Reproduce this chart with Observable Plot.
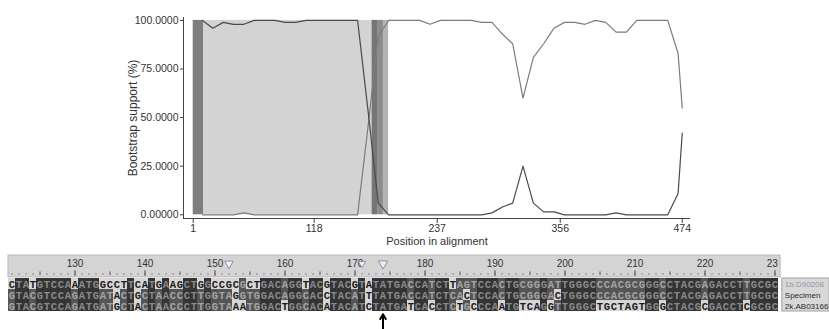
<!DOCTYPE html>
<html><head><meta charset="utf-8">
<script src="https://cdn.jsdelivr.net/npm/d3@7"></script>
<script src="https://cdn.jsdelivr.net/npm/@observablehq/plot@0.6"></script>
<style>
body{margin:0;background:#fff;}
#wrap{position:relative;width:829px;height:329px;overflow:hidden;font-family:"Liberation Sans",Arial,sans-serif;}
#top{position:absolute;left:0;top:0;}
#bottom{position:absolute;left:0;top:250px;}
svg{overflow:visible;}
</style></head><body><div id="wrap"><div id="top"></div><div id="bottom"></div></div>
<script>
// ---- Bootscan data ----
const positions = [10,20,30,40,50,60,70,80,90,100,110,120,130,140,150,160,170,180,190,200,210,220,230,240,250,260,270,280,290,300,310,320,330,340,350,360,370,380,390,400,410,420,430,440,450,460,470,474];
const supportA  = [100,96,99,98,98,100,100,100,99,99,100,100,100,100,100,100,54,6,0,0,0,0,0,0,0,0,0,0,1,4,6,25,6,1.5,1.5,0,0,0,0,0,1,0,0,0,0,0,11,42];
const supportB  = [0,0,0,0,1,0,0,0,0,0,0,0,0,0,0,0,45,92,100,100,100,100,98,100,100,100,100,99,99,93,88,60,81,88,96,99,99,98,100,99,94,94,100,100,100,100,83,55];
const bandStart = [1,11,174,180,185];
const bandEnd   = [11,174,180,185,190];
const bandShade = ["#7e7e7e","#d3d3d3","#767676","#8c8c8c","#b4b4b4"];
const xTicks = [1,118,237,356,474];
const yTicks = [0,25,50,75,100];
const yTickLabels = ["0.00000","25.0000","50.0000","75.0000","100.0000"];

// ---- Alignment data ----
const alignStart = 121;
const seqNames = ["1b.D90208","Specimen","2k.AB03166"];
const seq1 = "CTATGTCCAAATGGCCTTCATGAAGCT"+"GGCCGCGCTGACAGGTACGTACGTATAT"+"GACCATCTTAGTCCACTGCGGGATTGGG"+"CCCACGCGGGCCTACGAGACCTTGCGC";
const seq2 = "GTACGTCCAGATGATACTGCTAACCCT"+"TGGTAGGTGGACAGGCACCTACATTTAT"+"GACCATCTCACTCCACTGCGGGACTGGG"+"CCCACGCGGGCCTACGAGACCTTGCGC";
const seq3 = "GTACGTCCAGATGATGCTACTAACCCT"+"TGGTAAATGGACTGGCACATACATCTAT"+"GATCACCTCTGCCCAATGTCAGGTTGGG"+"CTGCTAGTGGGCTACGCGACCTCGCGC";
const rulerLabels = [130,140,150,160,170,180,190,200,210,220,230];
const markers = [152,171,174];
const markerSize = [3.2,2.2,3.6];
const breakpoint = 174;

// ---------- top chart ----------
const boot = positions.map((p,i)=>({pos:p,a:supportA[i],b:supportB[i]}));
const bands = bandStart.map((s,i)=>({start:s,end:bandEnd[i],shade:bandShade[i]}));
const xDomain = [-8.4, 482];
const yDomain = [-1.9, 101.5];
const font = "Liberation Sans, Arial, sans-serif";

const topChart = Plot.plot({
  width: 829, height: 250,
  marginLeft: 183, marginRight: 139, marginTop: 17, marginBottom: 32,
  x: {domain: xDomain, axis: null},
  y: {domain: yDomain, axis: null},
  color: {type: "identity"},
  style: {fontFamily: font, fontSize: "11px", color: "#333", background: "transparent"},
  marks: [
    Plot.rect(bands, {x1: "start", x2: "end", y1: () => yTicks[0], y2: () => yTicks[yTicks.length-1], fill: "shade"}),
    Plot.line(boot, {x: "pos", y: "b", stroke: "#7c7c7c", strokeWidth: 1.2}),
    Plot.line(boot, {x: "pos", y: "a", stroke: "#4a4a4a", strokeWidth: 1.2}),
    Plot.ruleX([xDomain[0]], {stroke: "#444", strokeWidth: 1}),
    Plot.ruleY([yDomain[0]], {stroke: "#444", strokeWidth: 1}),
    Plot.axisY(yTicks, {anchor: "left", tickSize: 3, tickPadding: 2, tickFormat: d => yTickLabels[yTicks.indexOf(d)], label: null, fontSize: 10.5, stroke: "#444"}),
    Plot.axisX(xTicks, {anchor: "bottom", tickSize: 5, tickPadding: 1, label: null, fontSize: 10.5, stroke: "#444"}),
    Plot.text(["Bootstrap support (%)"], {frameAnchor: "left", textAnchor: "middle", dx: -50, rotate: -90, fontSize: 12, fill: "#333"}),
    Plot.text(["Position in alignment"], {frameAnchor: "bottom", textAnchor: "middle", dy: 26, fontSize: 11, fill: "#333"})
  ]
});
document.getElementById("top").appendChild(topChart);

// ---------- alignment ----------
const rows = [seq1, seq2, seq3];
const cells = [];
for (let k = 0; k < seq1.length; k++) {
  const col = rows.map(s => s[k]);
  const counts = {};
  col.forEach(c => counts[c] = (counts[c]||0)+1);
  rows.forEach((s, r) => {
    const c = s[k];
    let shade, ink;
    if (counts[c] === 3) { shade = "#343434"; ink = "#8a8a8a"; }
    else if (counts[c] === 2) { shade = "#555555"; ink = "#a5a5a5"; }
    else { shade = "#d6d6d6"; ink = "#1a1a1a"; }
    cells.push({pos: alignStart + k, row: r, base: c, shade, ink});
  });
}
const xa0 = alignStart - 0.5, xa1 = alignStart + seq1.length - 0.5;
const allPos = d3.range(alignStart, alignStart + seq1.length);
const boxX1 = xa1 + 0.55, boxX2 = xa1 + 7.3;

const bottomChart = Plot.plot({
  width: 829, height: 79,
  marginLeft: 8, marginRight: 51, marginTop: 0, marginBottom: 0,
  x: {domain: [xa0, xa1], axis: null},
  y: {domain: [-2.545, 4.636], range: [0, 79], axis: null},
  color: {type: "identity"},
  style: {fontFamily: font, background: "transparent"},
  marks: [
    Plot.rect([0], {x1: xa0, x2: xa1 + 0.3, y1: -2.09, y2: -0.1, fill: "#d4d4d4", stroke: "#b8b8b8"}),
    Plot.dot(allPos, {x: d => d, y: -0.42, r: 0.6, fill: "#555", stroke: null}),
    Plot.ruleX(rulerLabels.filter(d => d <= xa1), {x: d => d, y1: -0.7, y2: -0.2, stroke: "#444"}),
    Plot.ruleX(allPos.filter(d => d % 5 === 0 && d % 10 !== 0), {x: d => d, y1: -0.6, y2: -0.3, stroke: "#666"}),
    Plot.text(rulerLabels, {x: d => d, y: -1.3, text: d => String(d), fontSize: 10, fill: "#333", clip: true}),
    Plot.dot(markers, {x: d => d, y: -1.35, r: (d, i) => markerSize[i], symbol: "triangle", rotate: 180, fill: "#eef0f4", stroke: "#8a94a6", strokeWidth: 1}),
    Plot.rect(cells, {x1: d => d.pos - 0.5, x2: d => d.pos + 0.5, y1: "row", y2: d => d.row + 1, fill: "shade"}),
    Plot.text(cells, {x: "pos", y: d => d.row + 0.52, text: "base", fill: "ink", fontFamily: "Liberation Mono, DejaVu Sans Mono, monospace", fontWeight: "bold", fontSize: 10.5}),
    Plot.rect([0], {x1: boxX1, x2: boxX2, y1: 0, y2: 3, fill: "#d8d8d8", stroke: "#a0a0a0"}),
    Plot.text(seqNames, {x: boxX1 + 0.35, y: (d, i) => i + 0.5, text: d => d, textAnchor: "start", fontSize: 8, fill: (d, i) => i === 0 ? "#8f99a8" : "#2a2a2a"}),
    Plot.arrow([breakpoint], {x1: d => d, x2: d => d, y1: 4.75, y2: 3.25, stroke: "#000", strokeWidth: 2, headLength: 8})
  ]
});
document.getElementById("bottom").appendChild(bottomChart);
</script></body></html>
